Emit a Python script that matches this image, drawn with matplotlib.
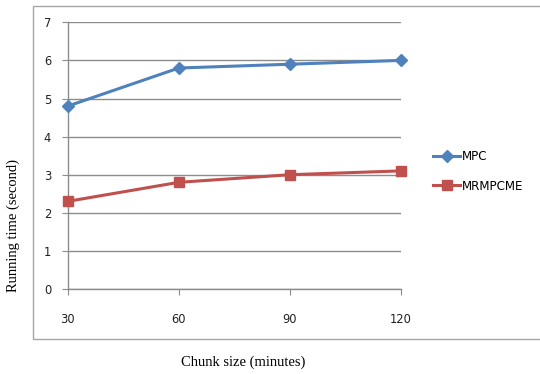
import matplotlib

matplotlib.use("Agg")

import matplotlib.pyplot as plt
from matplotlib.patches import Rectangle

# Chart data
chunk_sizes = [30, 60, 90, 120]
mpc_times = [4.8, 5.8, 5.9, 6.0]
mrmpcme_times = [2.3, 2.8, 3.0, 3.1]
y_ticks = [0, 1, 2, 3, 4, 5, 6, 7]

W, H, DPI = 540, 374, 100
BLUE = "#4F81BD"
RED = "#C0504D"
GRID = "#8c8c8c"

fig = plt.figure(figsize=(W / DPI, H / DPI), dpi=DPI)

# Outer chart-area border (runs off the right edge in the original)
fig.patches.append(
    Rectangle((33 / W, 1 - 339 / H), 540 / W, (339 - 6) / H,
              transform=fig.transFigure, fill=False,
              edgecolor="#a6a6a6", linewidth=1.0)
)

left, right = 67.7 / W, 401 / W
bottom, top = 1 - 289 / H, 1 - 22.3 / H
ax = fig.add_axes([left, bottom, right - left, top - bottom])

ax.plot(chunk_sizes, mpc_times, color=BLUE, linewidth=2.2,
        marker="D", markersize=6, label="MPC", zorder=3, clip_on=False)
ax.plot(chunk_sizes, mrmpcme_times, color=RED, linewidth=2.2,
        marker="s", markersize=7, label="MRMPCME", zorder=3, clip_on=False)

ax.set_xlim(30, 120)
ax.set_ylim(0, 7)
ax.set_xticks(chunk_sizes)
ax.set_yticks(y_ticks)
ax.yaxis.grid(True, color=GRID, linewidth=1.0)
ax.set_axisbelow(True)

for side in ("top", "right"):
    ax.spines[side].set_visible(False)
for side in ("left", "bottom"):
    ax.spines[side].set_color(GRID)
    ax.spines[side].set_linewidth(1.0)

ax.tick_params(axis="x", direction="out", length=4, color=GRID,
               labelsize=8.3, pad=13, labelcolor="#222222")
ax.tick_params(axis="y", direction="out", length=4, color=GRID,
               labelsize=8.3, pad=8, labelcolor="#222222")

fig.text(243 / W, 1 - 362 / H, "Chunk size (minutes)", family="Liberation Serif",
         fontsize=10.5, ha="center", va="center")
fig.text(13 / W, 1 - 225 / H, "Running time (second)", family="Liberation Serif",
         fontsize=10.5, ha="center", va="center", rotation=90)

fig.legend(loc="center left", bbox_to_anchor=(427 / W, 1 - 171.5 / H),
           frameon=False, fontsize=8.6, handlelength=2.3, handletextpad=0.15,
           labelspacing=1.35, borderpad=0)

fig.savefig("out.png", dpi=DPI)
